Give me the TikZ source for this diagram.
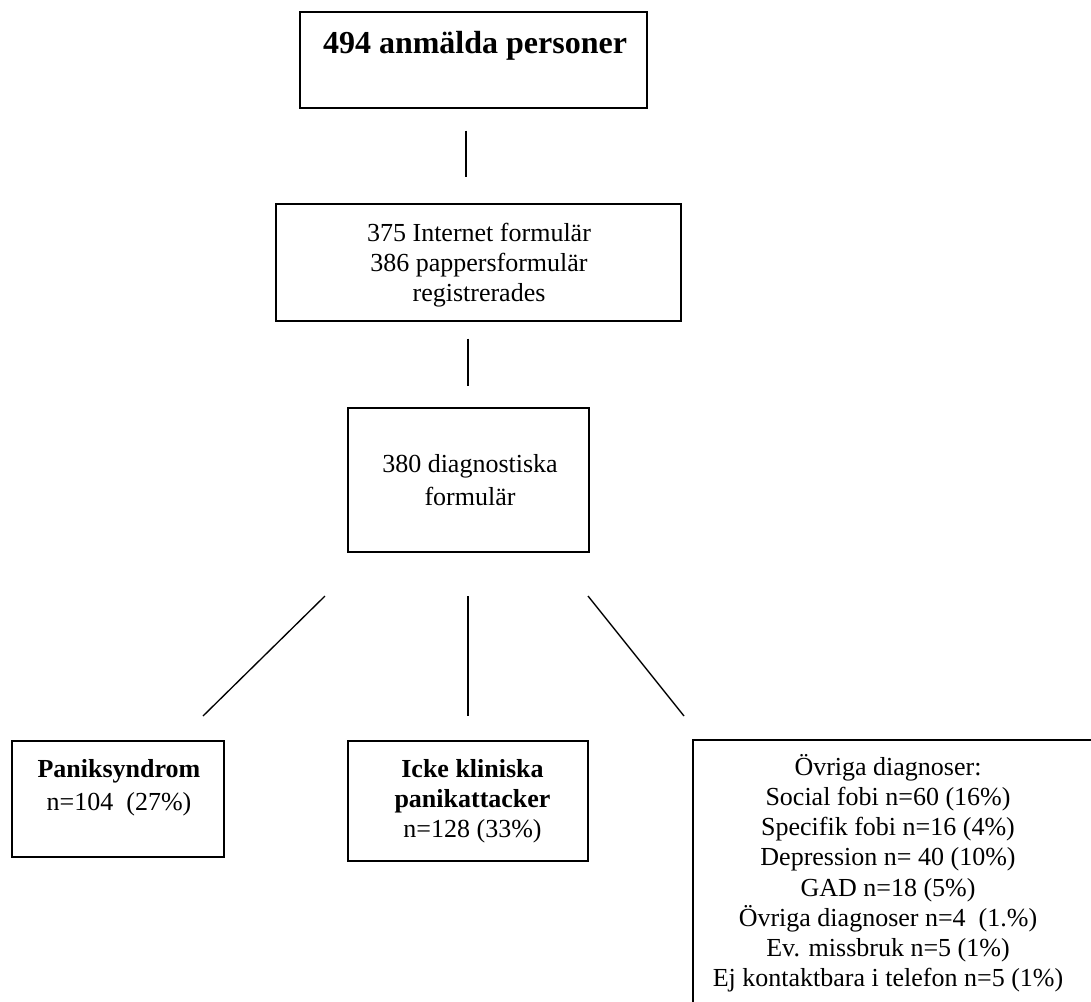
\documentclass[tikz,border=0pt]{standalone}
\usepackage{fontspec}
\setmainfont{Liberation Serif}
\usetikzlibrary{calc}
\tikzset{
  boxshape/.style={draw, line width=1pt, inner sep=0pt, fill=none},
  lbl/.style={anchor=base, inner sep=0pt, font=\fontsize{19.5}{22.5}\selectfont},
  conn/.style={line width=1pt},
}
\newcommand{\rows}[2]{{\fontsize{19.5}{#1}\selectfont\setlength{\tabcolsep}{0pt}\begin{tabular}[t]{c}#2\end{tabular}}}
\begin{document}
\begin{tikzpicture}[x=0.75pt, y=-0.75pt]
\useasboundingbox (0,0) rectangle (1091,1001);
\clip (0,0) rectangle (1091,1001);
\fill[white] (0,0) rectangle (1091,1001);

% boxes
\node[boxshape, minimum width=347*0.75pt, minimum height=96*0.75pt] (b1) at (473.5,60) {};
\node[boxshape, minimum width=405*0.75pt, minimum height=117*0.75pt] (b2) at (478.5,262.5) {};
\node[boxshape, minimum width=241*0.75pt, minimum height=144*0.75pt] (b3) at (468.5,480) {};
\node[boxshape, minimum width=212*0.75pt, minimum height=116*0.75pt] (bA) at (118,799) {};
\node[boxshape, minimum width=240*0.75pt, minimum height=120*0.75pt] (bB) at (468,801) {};
\node[boxshape, minimum width=407*0.75pt, minimum height=280*0.75pt] (bC) at (896.5,880) {};

% texts
\node[lbl, font=\fontsize{24}{28}\selectfont\bfseries] (t1) at (475,53) {494 anmälda personer};
\node[lbl] (t2) at (479,241) {\rows{22.5}{375 Internet formulär\\386 pappersformulär\\registrerades}};
\node[lbl] (t3) at (470,472) {\rows{24.75}{380 diagnostiska\\formulär}};
\node[lbl] (tA) at (119,777) {\rows{24.75}{\textbf{Paniksyndrom}\\n=104\ \ (27\%)}};
\node[lbl] (tB) at (472.5,777) {\rows{22.5}{\textbf{Icke kliniska}\\\textbf{panikattacker}\\n=128 (33\%)}};
\node[lbl] (tC) at (888,775) {\rows{22.7}{Övriga diagnoser:\\Social fobi n=60 (16\%)\\Specifik fobi n=16 (4\%)\\Depression n= 40 (10\%)\\GAD n=18 (5\%)\\Övriga diagnoser n=4\ \ (1.\%)\\Ev. missbruk n=5 (1\%)\\Ej kontaktbara i telefon n=5 (1\%)}};

% connector end points
\coordinate (c1s) at ($(b1.south)+(-7.5,22)$);
\coordinate (c1e) at ($(b2.north)+(-12.5,-26)$);
\coordinate (c2s) at ($(b2.south)+(-10.5,17)$);
\coordinate (c2e) at ($(b3.north)+(-0.5,-21)$);
\coordinate (cLs) at (325,596);
\coordinate (cLe) at (203,716);
\coordinate (cMs) at (468,596);
\coordinate (cMe) at (468,716);
\coordinate (cRs) at (588,596);
\coordinate (cRe) at (684,716);

\draw[conn] (c1s) -- (c1e);
\draw[conn] (c2s) -- (c2e);
\draw[conn] (cLs) -- (cLe);
\draw[conn] (cMs) -- (cMe);
\draw[conn] (cRs) -- (cRe);
\end{tikzpicture}
\end{document}
